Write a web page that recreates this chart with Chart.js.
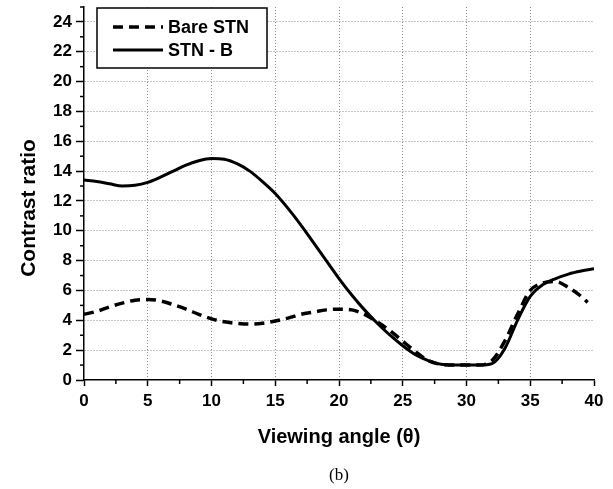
<!DOCTYPE html>
<html>
<head>
<meta charset="utf-8">
<script src="https://cdn.jsdelivr.net/npm/chart.js@4.4.1/dist/chart.umd.min.js"></script>
<style>
html, body { margin: 0; padding: 0; background: #fff; }
</style>
</head>
<body>
<canvas id="myChart" width="613" height="489"></canvas>
<script>
// values
var stnAngles = [0,1,2,3,4,5,6,7,8,9,10,11,12,13,14,15,16,17,18,19,20,21,22,23,24,25,26,27,28,29,30,31,32,33,34,35,36,37,38,39,40];
var stnB = [13.4,13.3,13.15,13.0,13.05,13.25,13.6,14.0,14.4,14.7,14.85,14.8,14.5,14.0,13.3,12.5,11.5,10.4,9.2,8.0,6.8,5.7,4.7,3.8,3.0,2.3,1.7,1.3,1.05,1.0,1.0,1.0,1.1,2.1,4.0,5.6,6.4,6.8,7.1,7.3,7.45];

var bareAngles = [0,1,2,3,4,5,6,7,8,9,10,11,12,13,14,15,16,17,18,19,20,21,22,23,24,25,26,27,28,29,30,31,32,33,34,35,36,37,38,39,39.5];
var bareStn = [4.4,4.6,4.9,5.15,5.35,5.4,5.3,5.05,4.75,4.4,4.1,3.9,3.8,3.75,3.8,3.95,4.15,4.4,4.55,4.7,4.75,4.7,4.4,3.9,3.3,2.6,1.9,1.3,1.05,1.0,1.0,1.0,1.3,2.6,4.4,6.0,6.5,6.6,6.2,5.6,5.2];

var xTicks = [0,5,10,15,20,25,30,35,40];
var yTicks = [0,2,4,6,8,10,12,14,16,18,20,22,24];

function toPoints(xs, ys) {
    var pts = [];
    for (var i = 0; i < xs.length; i++) {
        pts.push({x: xs[i], y: ys[i]});
    }
    return pts;
}

var FONT = "'Liberation Sans', Arial, sans-serif";

// legend box inside the plot, minor ticks, y title and the (b) caption
var extras = {
    id: 'extras',
    afterDraw: function(chart) {
        var ctx = chart.ctx;
        var area = chart.chartArea;
        var xs = chart.scales.x, ys = chart.scales.y;

        ctx.save();
        ctx.strokeStyle = '#000';
        ctx.lineWidth = 1.5;
        // minor ticks
        for (var v = 1; v <= 25; v += 2) {
            var py = ys.getPixelForValue(v);
            ctx.beginPath(); ctx.moveTo(area.left - 4, py); ctx.lineTo(area.left, py); ctx.stroke();
        }
        for (var u = 2.5; u < 40; u += 5) {
            var px = xs.getPixelForValue(u);
            ctx.beginPath(); ctx.moveTo(px, area.bottom); ctx.lineTo(px, area.bottom + 4); ctx.stroke();
        }

        // legend
        var bx = area.left + 13, by = area.top + 1, bw = 170, bh = 60;
        ctx.fillStyle = '#fff';
        ctx.fillRect(bx, by, bw, bh);
        ctx.lineWidth = 1.5;
        ctx.strokeRect(bx, by, bw, bh);
        ctx.font = 'bold 18px ' + FONT;
        ctx.textBaseline = 'middle';
        ctx.textAlign = 'left';
        chart.data.datasets.forEach(function(ds, i) {
            var ly = by + 19 + i * 23;
            ctx.beginPath();
            ctx.setLineDash(ds.borderDash || []);
            ctx.lineWidth = ds.borderWidth;
            ctx.moveTo(bx + 16, ly);
            ctx.lineTo(bx + 66, ly);
            ctx.stroke();
            ctx.setLineDash([]);
            ctx.fillStyle = '#000';
            ctx.fillText(ds.label, bx + 71, ly + 1);
        });

        // y axis title
        ctx.save();
        ctx.translate(29, 208);
        ctx.rotate(-Math.PI / 2);
        ctx.textAlign = 'center';
        ctx.font = 'bold 21px ' + FONT;
        ctx.fillText('Contrast ratio', 0, 0);
        ctx.restore();

        // caption
        ctx.font = "17px 'Liberation Serif', 'Times New Roman', serif";
        ctx.textAlign = 'center';
        ctx.fillText('(b)', (area.left + area.right) / 2, 476);
        ctx.restore();
    }
};

var ctx = document.getElementById('myChart').getContext('2d');

var chart = new Chart(ctx, {
    type: 'line',
    data: {
        datasets: [{
            label: 'Bare STN',
            data: toPoints(bareAngles, bareStn),
            borderColor: '#000',
            borderWidth: 3.5,
            borderDash: [10, 6],
            pointRadius: 0,
            cubicInterpolationMode: 'monotone',
            fill: false
        }, {
            label: 'STN - B',
            data: toPoints(stnAngles, stnB),
            borderColor: '#000',
            borderWidth: 3,
            pointRadius: 0,
            cubicInterpolationMode: 'monotone',
            fill: false
        }]
    },
    options: {
        responsive: false,
        animation: false,
        devicePixelRatio: 1,
        layout: { padding: { left: 15, right: 19, top: 7, bottom: 39 } },
        plugins: {
            legend: { display: false },
            tooltip: { enabled: false }
        },
        scales: {
            x: {
                type: 'linear',
                min: 0,
                max: 40,
                afterBuildTicks: function(scale) {
                    scale.ticks = xTicks.map(function(v) { return {value: v}; });
                },
                afterFit: function(scale) {
                    scale.height = 70;
                    scale.paddingLeft = 0;
                    scale.paddingRight = 0;
                },
                ticks: {
                    color: '#000',
                    font: { family: FONT, size: 17, weight: 'bold' },
                    padding: 5,
                    maxRotation: 0
                },
                grid: {
                    color: function(c) {
                        return (c.tick && (c.tick.value === 0 || c.tick.value === 40)) ? 'rgba(0,0,0,0)' : '#8a8a8a';
                    },
                    lineWidth: 1,
                    tickColor: '#000',
                    tickLength: 6,
                    tickWidth: 1.5
                },
                border: { display: true, color: '#000', width: 1.5, dash: [1, 2] },
                title: {
                    display: true,
                    text: 'Viewing angle (θ)',
                    color: '#000',
                    font: { family: FONT, size: 20, weight: 'bold' },
                    padding: { top: 4, bottom: 1 }
                }
            },
            y: {
                type: 'linear',
                min: 0,
                max: 25,
                afterBuildTicks: function(scale) {
                    scale.ticks = yTicks.map(function(v) { return {value: v}; });
                },
                afterFit: function(scale) {
                    scale.width = 69;
                    scale.paddingTop = 0;
                    scale.paddingBottom = 0;
                },
                ticks: {
                    color: '#000',
                    font: { family: FONT, size: 17, weight: 'bold' },
                    padding: 4
                },
                grid: {
                    color: function(c) {
                        return (c.tick && c.tick.value === 0) ? 'rgba(0,0,0,0)' : '#8a8a8a';
                    },
                    lineWidth: 1,
                    tickColor: '#000',
                    tickLength: 8,
                    tickWidth: 1.5
                },
                border: { display: true, color: '#000', width: 1.5, dash: [1, 2] },
                title: { display: false }
            }
        }
    },
    plugins: [extras]
});
</script>
</body>
</html>
